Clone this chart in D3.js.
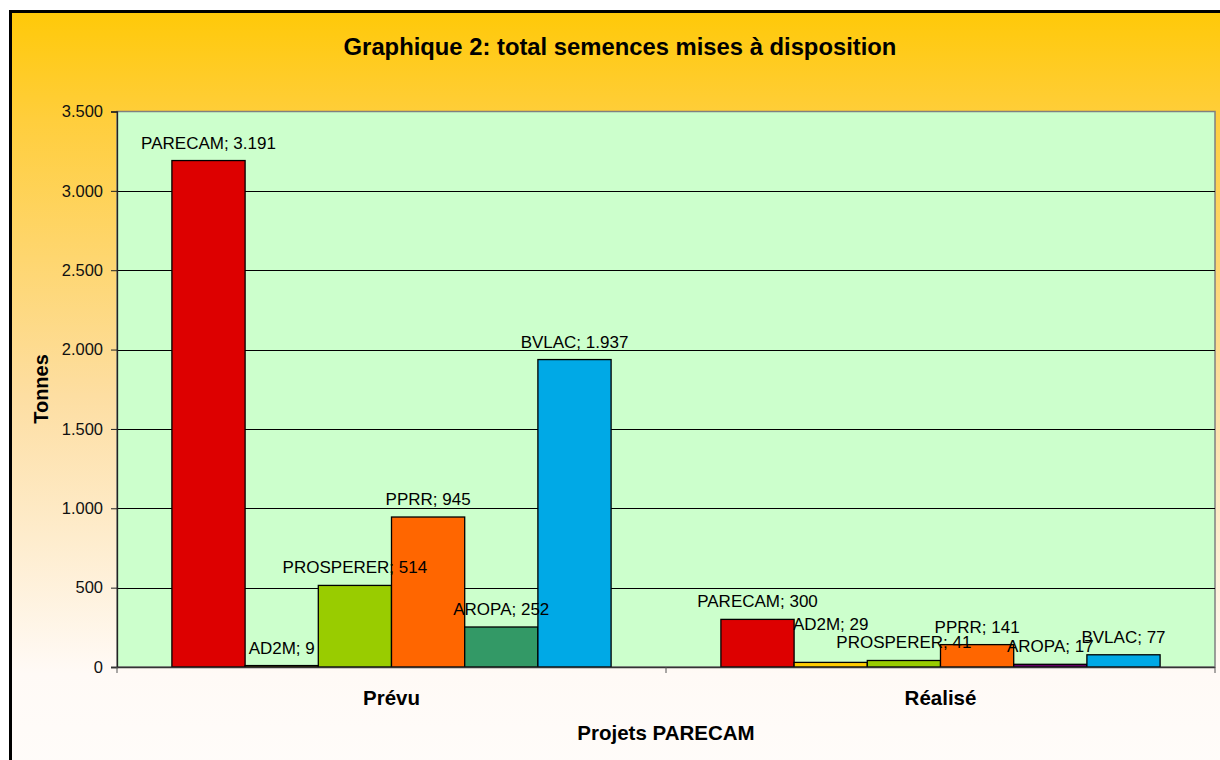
<!DOCTYPE html>
<html><head><meta charset="utf-8">
<script src="https://cdn.jsdelivr.net/npm/d3@7"></script>
<style>html,body{margin:0;padding:0;background:#fff;overflow:hidden}svg{display:block}</style>
</head><body>
<script>
const categories = ["Prévu", "Réalisé"];
const projects = ["PARECAM", "AD2M", "PROSPERER", "PPRR", "AROPA", "BVLAC"];
const prevuValues = [3191, 9, 514, 945, 252, 1937];
const realiseValues = [300, 29, 41, 141, 17, 77];
const yTickValues = [0, 500, 1000, 1500, 2000, 2500, 3000, 3500];
const colorsPrevu = ["#DD0000", "#FFCC00", "#99CC00", "#FF6600", "#339966", "#00A9E6"];
const colorsRealise = ["#DD0000", "#FFCC00", "#99CC00", "#FF6600", "#660066", "#00A9E6"];
const titleText = "Graphique 2: total semences mises à disposition";
const yTitle = "Tonnes";
const xTitle = "Projets PARECAM";

const W = 1220, H = 760;
const svg = d3.select("body").append("svg").attr("width", W).attr("height", H);
const defs = svg.append("defs");
const grad = defs.append("linearGradient").attr("id", "bg").attr("x1", 0).attr("y1", 0).attr("x2", 0).attr("y2", 1);
[[0, "#FFC908"], [0.14, "#FFCE3C"], [0.5, "#FDDEA2"], [0.86, "#FFFAF6"], [1, "#FFFCFA"]]
  .forEach(([o, c]) => grad.append("stop").attr("offset", o).attr("stop-color", c));

svg.append("rect").attr("x", 10.5).attr("y", 11.5).attr("width", 1230).attr("height", 770)
  .attr("fill", "url(#bg)").attr("stroke", "#000").attr("stroke-width", 3);

const font = "'Liberation Sans', Arial, sans-serif";
const x0 = 117, x1 = 1215, yTop = 111.5, yBot = 667;

const y = d3.scaleLinear().domain([0, 3500]).range([yBot, yTop]);
const xCat = d3.scaleBand().domain(categories).range([x0, x1]);
const xProj = d3.scaleBand().domain(projects).range([0, xCat.bandwidth()]).paddingInner(0).paddingOuter(0.75);

// plot area
svg.append("rect").attr("x", x0).attr("y", yTop).attr("width", x1 - x0).attr("height", yBot - yTop)
  .attr("fill", "#CCFFCC").attr("stroke", "#808080").attr("stroke-width", 1.5);

// gridlines
svg.append("g").selectAll("line").data(yTickValues.filter(v => v > 0 && v < 3500)).join("line")
  .attr("x1", x0).attr("x2", x1).attr("y1", d => Math.round(y(d)) + 0.5).attr("y2", d => Math.round(y(d)) + 0.5)
  .attr("stroke", "#000").attr("stroke-width", 1);

const loc = d3.formatLocale({decimal: ",", thousands: ".", grouping: [3], currency: ["", ""]});
const fmt = loc.format(",d");

// y axis
const yAxis = d3.axisLeft(y).tickValues(yTickValues).tickFormat(fmt).tickSize(6).tickPadding(8);
const gy = svg.append("g").attr("transform", `translate(${x0},0)`).call(yAxis);
gy.select(".domain").attr("stroke", "#222").attr("stroke-width", 1.3);
gy.selectAll(".tick line").attr("stroke", "#222");
gy.selectAll(".tick text").attr("font-family", font).attr("font-size", 16.5).attr("fill", "#111");

// bars
const series = [prevuValues, realiseValues];
const colorSets = [colorsPrevu, colorsRealise];
const labelNudge = {"Réalisé|AD2M": -20};
categories.forEach((cat, ci) => {
  const g = svg.append("g").attr("transform", `translate(${xCat(cat)},0)`);
  const data = projects.map((p, i) => ({p, v: series[ci][i], c: colorSets[ci][i]}));
  g.selectAll("rect").data(data).join("rect")
    .attr("x", d => xProj(d.p)).attr("width", xProj.bandwidth())
    .attr("y", d => y(d.v)).attr("height", d => y(0) - y(d.v))
    .attr("fill", d => d.c).attr("stroke", "#000").attr("stroke-width", 1.3);
  g.selectAll("text").data(data).join("text")
    .attr("x", d => xProj(d.p) + xProj.bandwidth() / 2)
    .attr("y", d => y(d.v) - 12 + (labelNudge[cat + "|" + d.p] || 0))
    .attr("text-anchor", "middle").attr("font-family", font).attr("font-size", 17).attr("fill", "#000")
    .text(d => `${d.p}; ${fmt(d.v)}`);
});

// x axis
const xAxisLine = svg.append("g");
xAxisLine.append("line").attr("x1", x0 - 6).attr("x2", x1).attr("y1", yBot + 0.5).attr("y2", yBot + 0.5)
  .attr("stroke", "#333").attr("stroke-width", 1.3);
const bounds = [x0, xCat("Réalisé"), x1];
xAxisLine.selectAll("line.t").data(bounds).join("line").attr("class", "t")
  .attr("x1", d => d).attr("x2", d => d).attr("y1", yBot).attr("y2", yBot + 6).attr("stroke", "#555");
svg.append("g").selectAll("text").data(categories).join("text")
  .attr("x", d => xCat(d) + xCat.bandwidth() / 2).attr("y", 705)
  .attr("text-anchor", "middle").attr("font-family", font).attr("font-weight", "bold").attr("font-size", 20.5)
  .text(d => d);

// titles
svg.append("text").attr("x", 620).attr("y", 55).attr("text-anchor", "middle")
  .attr("font-family", font).attr("font-weight", "bold").attr("font-size", 23.8).text(titleText);
svg.append("text").attr("x", (x0 + x1) / 2).attr("y", 740).attr("text-anchor", "middle")
  .attr("font-family", font).attr("font-weight", "bold").attr("font-size", 20.5).text(xTitle);
svg.append("text").attr("transform", `translate(48,389) rotate(-90)`).attr("text-anchor", "middle")
  .attr("font-family", font).attr("font-weight", "bold").attr("font-size", 20).text(yTitle);
</script>
</body></html>
